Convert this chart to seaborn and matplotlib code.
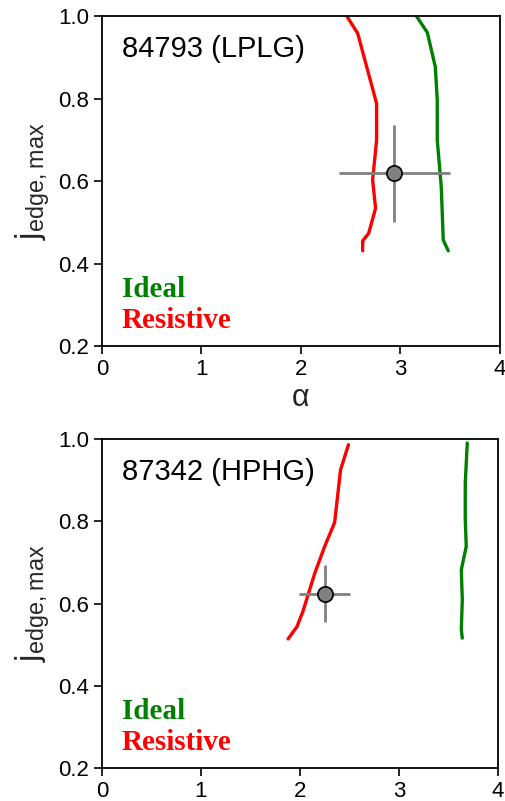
import numpy as np
import pandas as pd
import matplotlib
matplotlib.use("Agg")
import matplotlib.pyplot as plt
import seaborn as sns

# panel 1: 84793 (LPLG)
lplg_ideal_alpha = [3.16, 3.27, 3.35, 3.37, 3.37, 3.41, 3.43, 3.48]
lplg_ideal_j = [1.0, 0.960, 0.877, 0.796, 0.699, 0.586, 0.457, 0.431]
lplg_resist_alpha = [2.46, 2.57, 2.76, 2.76, 2.72, 2.75, 2.68, 2.62, 2.62]
lplg_resist_j = [1.0, 0.958, 0.788, 0.699, 0.602, 0.534, 0.473, 0.455, 0.431]
lplg_point = (2.94, 0.619)
lplg_err = (0.56, 0.118)

# panel 2: 87342 (HPHG)
hphg_ideal_alpha = [3.69, 3.67, 3.67, 3.68, 3.63, 3.64, 3.63, 3.64]
hphg_ideal_j = [0.990, 0.893, 0.804, 0.739, 0.682, 0.609, 0.536, 0.516]
hphg_resist_alpha = [2.49, 2.41, 2.35, 2.25, 2.15, 2.03, 1.97, 1.88]
hphg_resist_j = [0.986, 0.925, 0.797, 0.739, 0.674, 0.581, 0.544, 0.514]
hphg_point = (2.25, 0.624)
hphg_err = (0.26, 0.07)

x_ticks = [0, 1, 2, 3, 4]
y_ticks = [0.2, 0.4, 0.6, 0.8, 1.0]

sns.set_style("ticks")
plt.rcParams['font.family'] = ['Liberation Sans', 'DejaVu Sans']

fig = plt.figure(figsize=(5.05, 8.01), dpi=100)
ax1 = fig.add_axes([0.202, 0.568, 0.788, 0.412])
ax2 = fig.add_axes([0.202, 0.041, 0.784, 0.411])

panels = [
    (ax1, "84793 (LPLG)", lplg_ideal_alpha, lplg_ideal_j, lplg_resist_alpha, lplg_resist_j, lplg_point, lplg_err),
    (ax2, "87342 (HPHG)", hphg_ideal_alpha, hphg_ideal_j, hphg_resist_alpha, hphg_resist_j, hphg_point, hphg_err),
]

for ax, name, ia, ij, ra, rj, pt, err in panels:
    ideal = pd.DataFrame({"alpha": ia, "j": ij})
    resist = pd.DataFrame({"alpha": ra, "j": rj})
    sns.lineplot(data=ideal, x="alpha", y="j", sort=False, estimator=None,
                 color="#008000", lw=2.4, ax=ax)
    sns.lineplot(data=resist, x="alpha", y="j", sort=False, estimator=None,
                 color="#ff0000", lw=2.4, ax=ax)
    ax.errorbar(pt[0], pt[1], xerr=err[0], yerr=err[1], fmt="o", color="#808080",
                ecolor="#808080", elinewidth=2, capsize=0, ms=11,
                mfc="#808080", mec="black", mew=1.2, zorder=5)

    ax.set_xlim(0, 4)
    ax.set_ylim(0.2, 1.0)
    ax.set_xticks(x_ticks)
    ax.set_yticks(y_ticks)
    ax.set_yticklabels([f"{v:.1f}" for v in y_ticks])
    ax.tick_params(labelsize=16, length=6, width=1.2, direction="out", colors="black")
    for s in ax.spines.values():
        s.set_linewidth(1.3)
        s.set_color("black")
    ax.set_xlabel("")
    ax.set_ylabel(r"$\mathregular{j_{edge, max}}$", fontsize=24, labelpad=4)

    ax.text(0.05, 0.875, name, transform=ax.transAxes, fontsize=21,
            ha="left", va="baseline", color="black")
    ax.text(0.05, 0.148, "Ideal", transform=ax.transAxes, fontsize=21,
            fontweight="bold", family="Liberation Serif", color="#008000",
            ha="left", va="baseline")
    ax.text(0.05, 0.056, "Resistive", transform=ax.transAxes, fontsize=21,
            fontweight="bold", family="Liberation Serif", color="#ff0000",
            ha="left", va="baseline")

ax1.set_xlabel("α", fontsize=22, labelpad=2)

fig.savefig("out.png", dpi=100)
